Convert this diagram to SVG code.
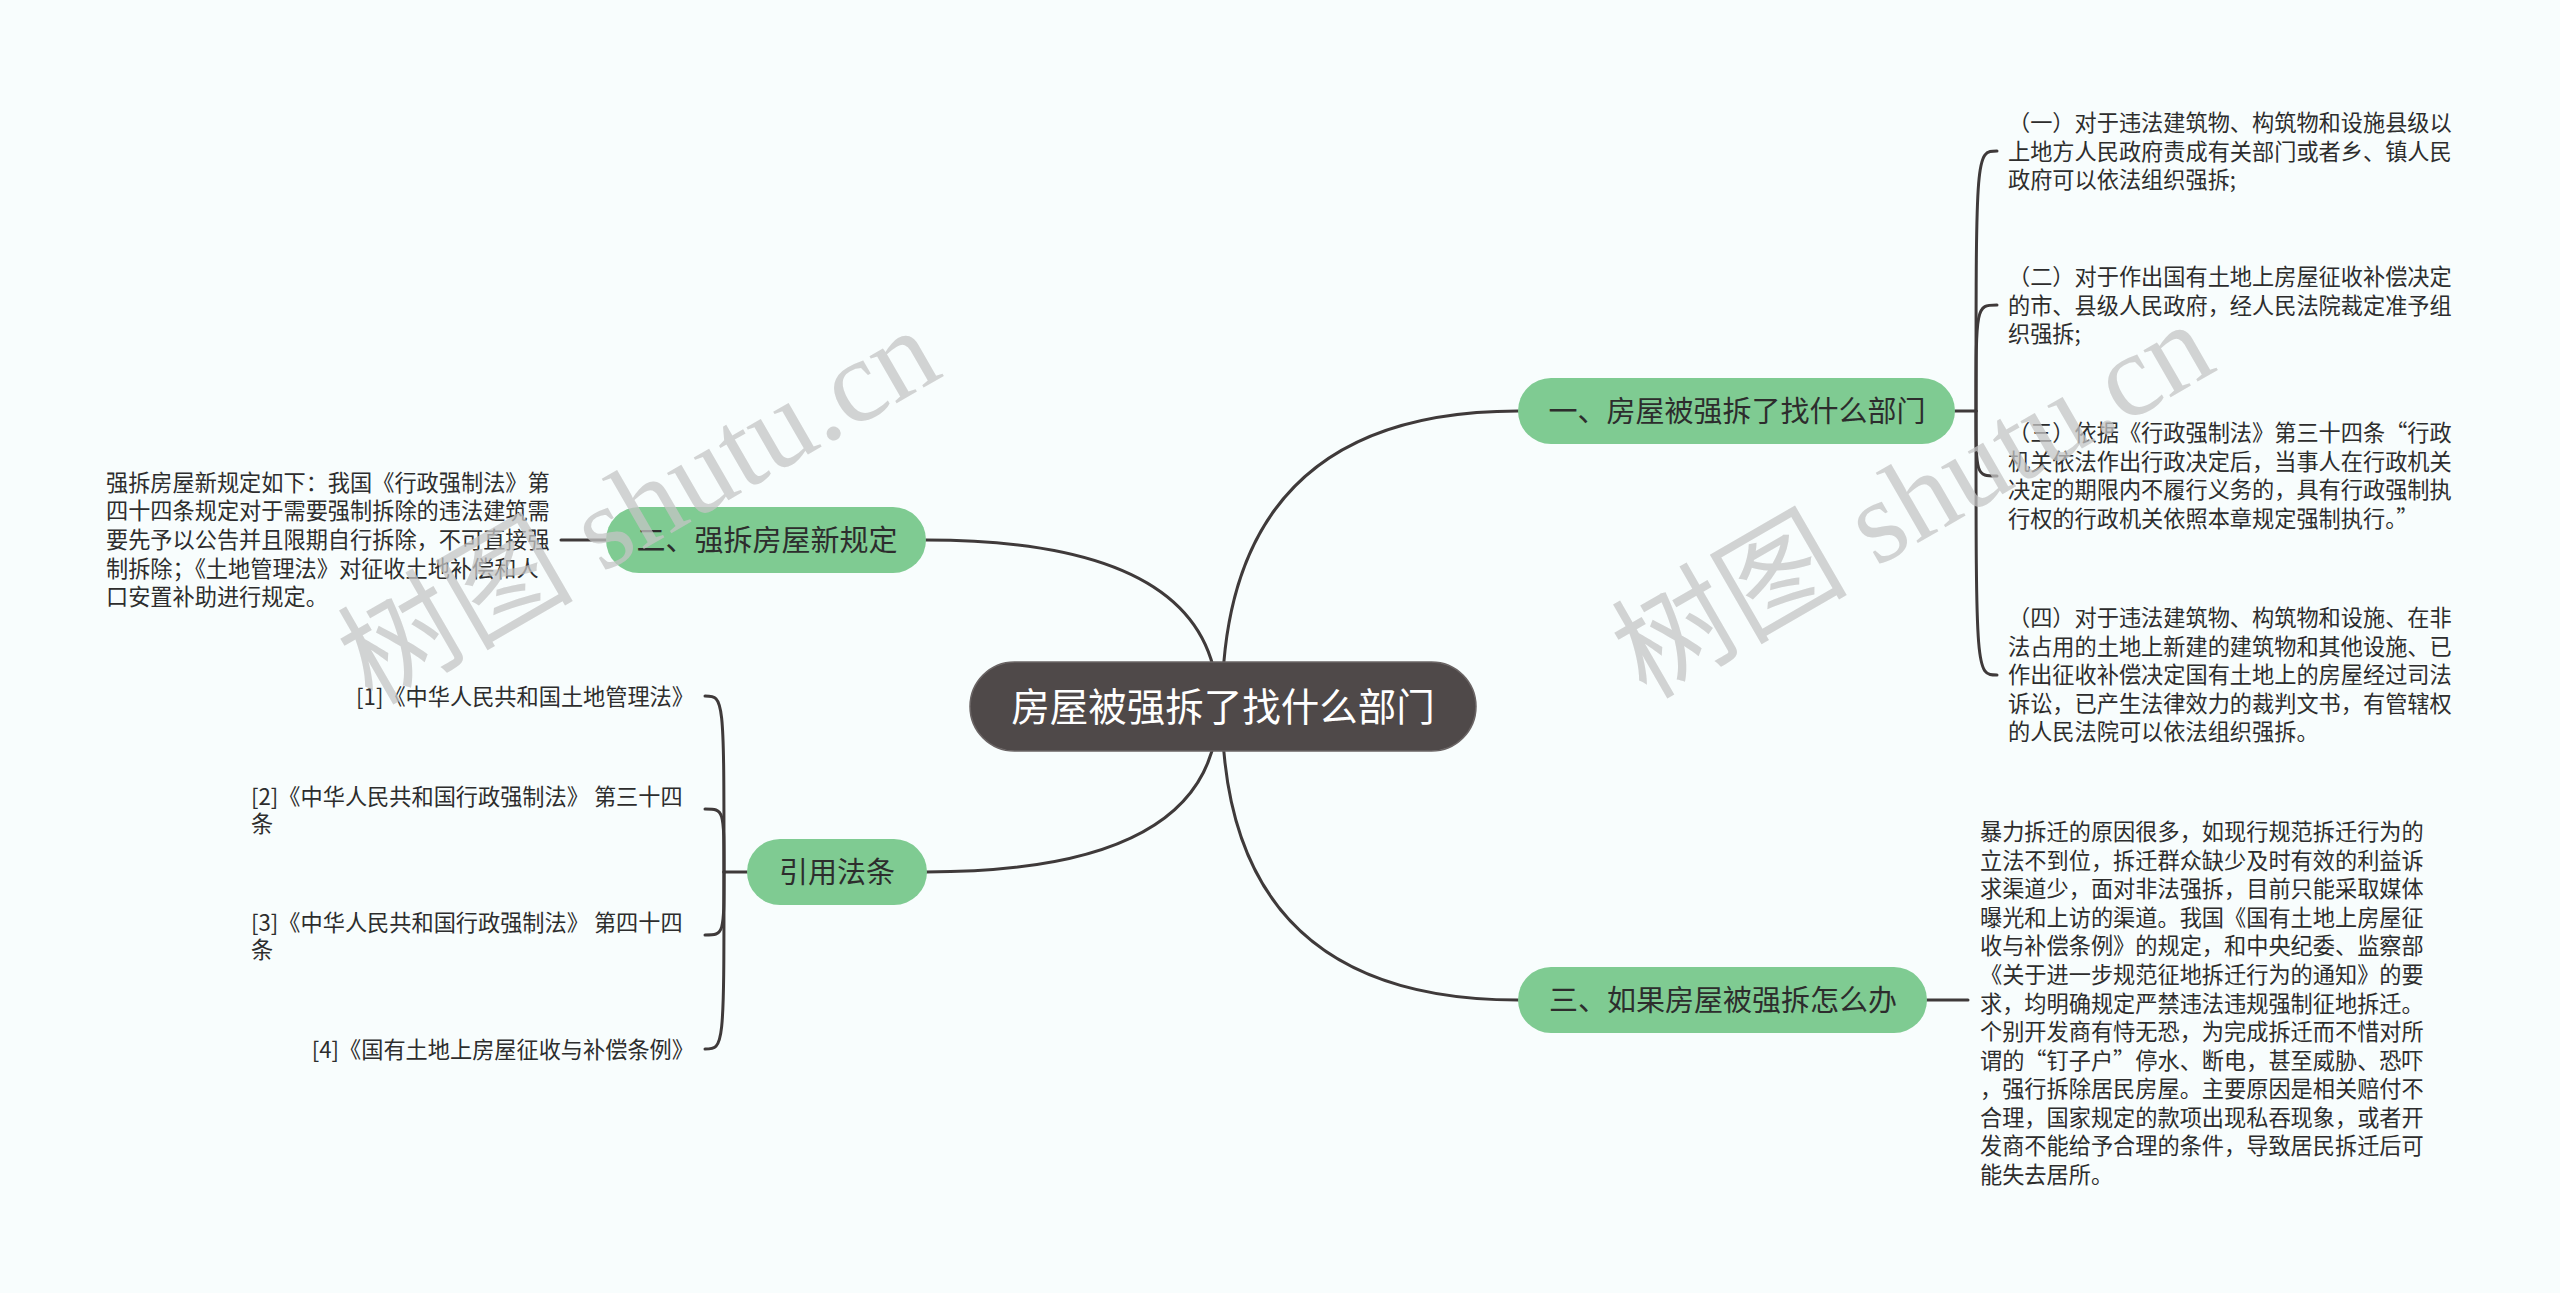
<svg xmlns="http://www.w3.org/2000/svg" width="2560" height="1293" viewBox="0 0 2560 1293">
<style>
.bg{fill:#f8fdfd}
.ln{fill:none;stroke:#3f3a3a;stroke-width:3;stroke-linecap:round}
.root rect{fill:#4f4949;stroke:#6a6464;stroke-width:1.5}
.root text{fill:#ffffff;font-family:"Noto Sans CJK SC",sans-serif;font-size:38.5px;text-anchor:middle}
.main rect{fill:#7fcb92}
.main text{fill:#2d2d2d;font-family:"Noto Sans CJK SC",sans-serif;font-size:29px;text-anchor:middle}
.leaf text{fill:#2d2d2d;font-family:"Noto Sans CJK SC",sans-serif;font-size:22.2px}
.wm{fill:#c4c4c4;fill-opacity:0.75;font-family:"Liberation Serif","Noto Sans CJK SC",serif;font-size:118px}
</style>
<rect class="bg" x="0" y="0" width="2560" height="1293"/>

<g id="connectors">
  <path class="ln" d="M1222 707 Q1222 411 1518 411"/>
  <path class="ln" d="M1222 707 Q1222 1000 1518 1000"/>
  <path class="ln" d="M1218 707 Q1218 540 926 540"/>
  <path class="ln" d="M1218 707 Q1218 872 926 872"/>
  <path class="ln" d="M1955 411 L1976 411"/>
  <path class="ln" d="M1976 411 C1976 151,1976 151,1997 151"/>
  <path class="ln" d="M1976 411 C1976 305,1976 305,1997 305"/>
  <path class="ln" d="M1976 411 C1976 476,1976 476,1997 476"/>
  <path class="ln" d="M1976 411 C1976 675,1976 675,1997 675"/>
  <path class="ln" d="M1927 1000 L1968 1000"/>
  <path class="ln" d="M606 540 L561 540"/>
  <path class="ln" d="M747 872 L724 872"/>
  <path class="ln" d="M724 872 C724 696,724 696,705 696"/>
  <path class="ln" d="M724 872 C724 809,724 809,705 809"/>
  <path class="ln" d="M724 872 C724 935,724 935,705 935"/>
  <path class="ln" d="M724 872 C724 1049,724 1049,705 1049"/>
</g>

<g id="root" class="root">
  <rect x="970" y="662" width="506" height="89" rx="44.5"/>
  <text x="1223" y="721">房屋被强拆了找什么部门</text>
</g>

<g id="n1" class="main">
  <rect x="1518" y="378" width="437" height="66" rx="33"/>
  <text x="1737" y="422">一、房屋被强拆了找什么部门</text>
</g>
<g id="n2" class="main">
  <rect x="606" y="507" width="320" height="66" rx="33"/>
  <text x="767" y="551">二、强拆房屋新规定</text>
</g>
<g id="n3" class="main">
  <rect x="1518" y="967" width="409" height="66" rx="33"/>
  <text x="1723" y="1011">三、如果房屋被强拆怎么办</text>
</g>
<g id="n4" class="main">
  <rect x="747" y="839" width="180" height="66" rx="33"/>
  <text x="837" y="883">引用法条</text>
</g>

<g id="n1a" class="leaf">
  <text x="2008" y="131">（一）对于违法建筑物、构筑物和设施县级以</text>
  <text x="2008" y="160">上地方人民政府责成有关部门或者乡、镇人民</text>
  <text x="2008" y="188">政府可以依法组织强拆;</text>
</g>
<g id="n1b" class="leaf">
  <text x="2008" y="285">（二）对于作出国有土地上房屋征收补偿决定</text>
  <text x="2008" y="314">的市、县级人民政府，经人民法院裁定准予组</text>
  <text x="2008" y="342">织强拆;</text>
</g>
<g id="n1c" class="leaf">
  <text x="2008" y="441">（三）依据《行政强制法》第三十四条“行政</text>
  <text x="2008" y="470">机关依法作出行政决定后，当事人在行政机关</text>
  <text x="2008" y="498">决定的期限内不履行义务的，具有行政强制执</text>
  <text x="2008" y="527">行权的行政机关依照本章规定强制执行。”</text>
</g>
<g id="n1d" class="leaf">
  <text x="2008" y="626">（四）对于违法建筑物、构筑物和设施、在非</text>
  <text x="2008" y="655">法占用的土地上新建的建筑物和其他设施、已</text>
  <text x="2008" y="683">作出征收补偿决定国有土地上的房屋经过司法</text>
  <text x="2008" y="712">诉讼，已产生法律效力的裁判文书，有管辖权</text>
  <text x="2008" y="740">的人民法院可以依法组织强拆。</text>
</g>

<g id="n2a" class="leaf">
  <text x="106" y="491">强拆房屋新规定如下：我国《行政强制法》第</text>
  <text x="106" y="519">四十四条规定对于需要强制拆除的违法建筑需</text>
  <text x="106" y="548">要先予以公告并且限期自行拆除，不可直接强</text>
  <text x="106" y="577">制拆除；《土地管理法》对征收土地补偿和人</text>
  <text x="106" y="605">口安置补助进行规定。</text>
</g>

<g id="n3a" class="leaf">
  <text x="1980" y="840">暴力拆迁的原因很多，如现行规范拆迁行为的</text>
  <text x="1980" y="869">立法不到位，拆迁群众缺少及时有效的利益诉</text>
  <text x="1980" y="897">求渠道少，面对非法强拆，目前只能采取媒体</text>
  <text x="1980" y="926">曝光和上访的渠道。我国《国有土地上房屋征</text>
  <text x="1980" y="954">收与补偿条例》的规定，和中央纪委、监察部</text>
  <text x="1980" y="983">《关于进一步规范征地拆迁行为的通知》的要</text>
  <text x="1980" y="1012">求，均明确规定严禁违法违规强制征地拆迁。</text>
  <text x="1980" y="1040">个别开发商有恃无恐，为完成拆迁而不惜对所</text>
  <text x="1980" y="1069">谓的“钉子户”停水、断电，甚至威胁、恐吓</text>
  <text x="1980" y="1097">，强行拆除居民房屋。主要原因是相关赔付不</text>
  <text x="1980" y="1126">合理，国家规定的款项出现私吞现象，或者开</text>
  <text x="1980" y="1154">发商不能给予合理的条件，导致居民拆迁后可</text>
  <text x="1980" y="1183">能失去居所。</text>
</g>

<g id="n4a" class="leaf">
  <text x="694" y="705" text-anchor="end">[1]《中华人民共和国土地管理法》</text>
</g>
<g id="n4b" class="leaf">
  <text x="251" y="805">[2]《中华人民共和国行政强制法》 第三十四</text>
  <text x="251" y="832">条</text>
</g>
<g id="n4c" class="leaf">
  <text x="251" y="931">[3]《中华人民共和国行政强制法》 第四十四</text>
  <text x="251" y="958">条</text>
</g>
<g id="n4d" class="leaf">
  <text x="694" y="1058" text-anchor="end">[4]《国有土地上房屋征收与补偿条例》</text>
</g>

<g id="watermark">
  <text class="wm" x="372" y="706" transform="rotate(-30 372 706)">树图 shutu.cn</text>
  <text class="wm" x="1646" y="700" transform="rotate(-30 1646 700)">树图 shutu.cn</text>
</g>
</svg>
